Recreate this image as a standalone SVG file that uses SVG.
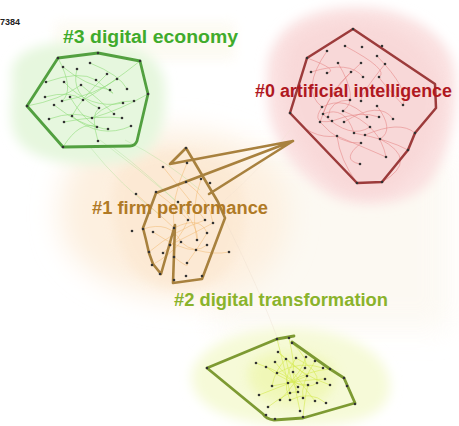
<svg xmlns="http://www.w3.org/2000/svg" width="459" height="426" viewBox="0 0 459 426">
  <defs>
    <filter id="haze" x="-30%" y="-30%" width="160%" height="160%">
      <feGaussianBlur stdDeviation="6"/>
    </filter>
    <filter id="hazeSoft" x="-30%" y="-30%" width="160%" height="160%">
      <feGaussianBlur stdDeviation="14"/>
    </filter>
    <style>
      .label { font-family: "Liberation Sans", Arial, sans-serif; font-weight: bold; font-size: 18px; }
      .dot { fill: #333; }
      .hull { fill: none; stroke-linejoin: round; stroke-linecap: round; }
      .e3 { fill: none; stroke: #8fdc78; stroke-width: 0.8; opacity: 0.75; }
      .e0 { fill: none; stroke: #e68a8a; stroke-width: 0.8; opacity: 0.75; }
      .e1 { fill: none; stroke: #f0b66a; stroke-width: 0.8; opacity: 0.6; }
      .e2 { fill: none; stroke: #d6ea55; stroke-width: 0.8; opacity: 0.8; }
      .link { fill: none; stroke-width: 0.7; opacity: 0.45; }
    </style>
  </defs>

  <rect width="459" height="426" fill="#ffffff"/>

  <!-- background washes -->
  <g id="wash">
    <rect x="210" y="150" width="240" height="180" fill="#fcf8f0" filter="url(#hazeSoft)" opacity="0.8"/>
    <rect x="55" y="22" width="180" height="38" fill="#fcf9ef" filter="url(#haze)" opacity="0.8"/>
    <path d="M70,170 C80,135 140,125 200,132 C255,140 290,170 288,220 C285,265 250,300 190,300 C125,300 65,268 60,225 C58,200 62,185 70,170Z" fill="#fdf0e0" filter="url(#hazeSoft)"/>
    <path d="M120,168 C140,145 200,145 228,165 C255,188 250,248 222,276 C195,296 152,292 132,268 C112,240 105,195 120,168Z" fill="#fce8d2" filter="url(#haze)" opacity="0.8"/>
    <path d="M12,78 C8,50 45,40 85,43 C125,42 162,50 165,85 C168,125 158,160 118,163 C78,167 22,163 13,130 C8,110 14,95 12,78Z" fill="#e6f7de" filter="url(#haze)"/>
    <path d="M276,42 C292,12 340,3 380,9 C420,16 455,42 455,78 C457,115 450,152 430,182 C410,206 360,210 332,196 C298,177 270,142 268,102 C266,72 266,56 276,42Z" fill="#fae0e0" filter="url(#haze)"/>
    <path d="M295,40 C315,22 350,18 380,25 C415,35 440,60 440,95 C440,130 425,165 395,188 C370,200 345,195 325,175 C300,150 285,120 285,90 C285,70 285,52 295,40Z" fill="#f8d6d6" filter="url(#haze)" opacity="0.7"/>
    <path d="M192,372 C202,342 250,326 295,328 C345,330 390,352 390,386 C390,415 358,426 300,426 C240,426 187,410 192,372Z" fill="#f6fad8" filter="url(#haze)"/>
    <path d="M250,365 C265,347 310,347 330,363 C343,378 333,403 300,406 C268,408 240,390 250,365Z" fill="#eff7b0" filter="url(#haze)" opacity="0.8"/>
  </g>

  <!-- links between clusters -->
  <g id="connectors">
    <path class="link" stroke="#9fdc88" d="M100,140 Q140,170 175,200"/>
    <path class="link" stroke="#9fdc88" d="M110,145 Q150,175 190,215"/>
    <path class="link" stroke="#9fdc88" d="M90,147 Q120,185 160,215"/>
    <path class="link" stroke="#9fdc88" d="M125,140 Q165,160 200,190"/>
    <path class="link" stroke="#e8d8c8" d="M225,220 Q260,290 280,345"/>
    <path class="link" stroke="#eee0d0" d="M290,130 Q260,170 225,200"/>
  </g>

  <!-- #3 digital economy -->
  <g id="cluster3">
    <path class="e3" d="M63,67 Q85,85 110,90"/>
    <path class="e3" d="M77,69 Q70,95 99,108"/>
    <path class="e3" d="M90,63 Q120,75 127,89"/>
    <path class="e3" d="M46,82 Q80,70 96,80"/>
    <path class="e3" d="M64,82 Q90,110 123,103"/>
    <path class="e3" d="M81,85 Q100,100 114,114"/>
    <path class="e3" d="M45,97 Q70,90 83,100"/>
    <path class="e3" d="M54,105 Q80,125 97,127"/>
    <path class="e3" d="M62,101 Q95,95 117,79"/>
    <path class="e3" d="M70,97 Q90,130 108,129"/>
    <path class="e3" d="M49,119 Q75,110 92,118"/>
    <path class="e3" d="M64,122 Q100,115 122,118"/>
    <path class="e3" d="M72,116 Q100,140 131,126"/>
    <path class="e3" d="M92,118 Q110,100 134,101"/>
    <path class="e3" d="M98,141 Q90,115 99,108"/>
    <path class="e3" d="M107,74 Q80,100 72,116"/>
    <path class="e3" d="M96,80 Q120,100 110,90"/>
    <path class="e3" d="M58,58 Q75,90 62,101"/>
    <path class="e3" d="M140,61 Q110,85 83,100"/>
    <path class="e3" d="M27,106 Q60,100 81,85"/>
    <path class="e3" d="M63,147 Q80,120 97,127"/>
    <path class="e3" d="M148,94 Q120,110 92,118"/>
    <path class="hull" stroke="#52a040" stroke-width="2.8" d="M58,58 L98,53 L140,61 L148,94 L137,141 Q135,146 130,146 L63,147 L27,106 Z"/>
    <g class="dots">
      <circle class="dot" cx="58" cy="58" r="1.3"/><circle class="dot" cx="98" cy="53" r="1.3"/><circle class="dot" cx="140" cy="61" r="1.3"/>
      <circle class="dot" cx="148" cy="94" r="1.3"/><circle class="dot" cx="63" cy="147" r="1.3"/><circle class="dot" cx="27" cy="106" r="1.3"/>
      <circle class="dot" cx="63" cy="67" r="1.3"/><circle class="dot" cx="77" cy="69" r="1.3"/><circle class="dot" cx="90" cy="63" r="1.3"/>
      <circle class="dot" cx="107" cy="74" r="1.3"/><circle class="dot" cx="117" cy="79" r="1.3"/><circle class="dot" cx="46" cy="82" r="1.3"/>
      <circle class="dot" cx="64" cy="82" r="1.3"/><circle class="dot" cx="81" cy="85" r="1.3"/><circle class="dot" cx="96" cy="80" r="1.3"/>
      <circle class="dot" cx="110" cy="90" r="1.3"/><circle class="dot" cx="127" cy="89" r="1.3"/><circle class="dot" cx="45" cy="97" r="1.3"/>
      <circle class="dot" cx="54" cy="105" r="1.3"/><circle class="dot" cx="62" cy="101" r="1.3"/><circle class="dot" cx="70" cy="97" r="1.3"/>
      <circle class="dot" cx="83" cy="100" r="1.3"/><circle class="dot" cx="99" cy="108" r="1.3"/><circle class="dot" cx="123" cy="103" r="1.3"/>
      <circle class="dot" cx="134" cy="101" r="1.3"/><circle class="dot" cx="49" cy="119" r="1.3"/><circle class="dot" cx="64" cy="122" r="1.3"/>
      <circle class="dot" cx="72" cy="116" r="1.3"/><circle class="dot" cx="92" cy="118" r="1.3"/><circle class="dot" cx="114" cy="114" r="1.3"/>
      <circle class="dot" cx="122" cy="118" r="1.3"/><circle class="dot" cx="97" cy="127" r="1.3"/><circle class="dot" cx="108" cy="129" r="1.3"/>
      <circle class="dot" cx="131" cy="126" r="1.3"/><circle class="dot" cx="98" cy="141" r="1.3"/>
    </g>
    <text class="label" x="63" y="43" fill="#3fab2b" textLength="175" lengthAdjust="spacingAndGlyphs">#3 digital economy</text>
  </g>

  <!-- #0 artificial intelligence -->
  <g id="cluster0">
    <path class="e0" d="M327,51 Q300,90 322,107"/>
    <path class="e0" d="M345,46 Q390,70 379,77"/>
    <path class="e0" d="M311,72 Q350,60 363,77"/>
    <path class="e0" d="M338,63 Q360,100 343,111"/>
    <path class="e0" d="M361,63 Q330,90 323,114"/>
    <path class="e0" d="M377,56 Q410,90 403,105"/>
    <path class="e0" d="M322,107 Q345,95 367,117"/>
    <path class="e0" d="M323,114 Q350,140 370,127"/>
    <path class="e0" d="M328,117 Q330,100 350,100"/>
    <path class="e0" d="M320,122 Q340,145 361,143"/>
    <path class="e0" d="M332,121 Q360,110 379,117"/>
    <path class="e0" d="M344,122 Q380,100 393,119"/>
    <path class="e0" d="M337,136 Q370,150 386,157"/>
    <path class="e0" d="M354,133 Q390,140 408,150"/>
    <path class="e0" d="M365,135 Q400,120 415,133"/>
    <path class="e0" d="M361,143 Q340,160 360,164"/>
    <path class="e0" d="M380,139 Q420,160 382,182"/>
    <path class="e0" d="M290,113 Q310,140 337,136"/>
    <path class="e0" d="M351,72 Q330,90 320,122"/>
    <path class="e0" d="M307,58 Q340,70 327,73"/>
    <path class="e0" d="M385,64 Q360,95 361,101"/>
    <path class="e0" d="M377,106 Q395,130 380,139"/>
    <path class="e0" d="M343,111 Q380,125 386,157"/>
    <path class="e0" d="M322,107 Q310,125 332,121"/>
    <path class="e0" d="M323,114 Q345,105 354,133"/>
    <path class="e0" d="M357,183 Q340,160 337,136"/>
    <path class="e0" d="M403,105 Q380,80 379,77"/>
    <path class="hull" stroke="#9c3b3b" stroke-width="2.5" d="M353,29 L435,84 L436,108 L415,133 L408,150 L382,182 L357,183 L290,113 L307,58 Z"/>
    <g class="dots">
      <circle class="dot" cx="353" cy="29" r="1.3"/><circle class="dot" cx="382" cy="46" r="1.3"/><circle class="dot" cx="307" cy="58" r="1.3"/>
      <circle class="dot" cx="327" cy="51" r="1.3"/><circle class="dot" cx="345" cy="46" r="1.3"/><circle class="dot" cx="362" cy="47" r="1.3"/>
      <circle class="dot" cx="377" cy="56" r="1.3"/><circle class="dot" cx="385" cy="64" r="1.3"/><circle class="dot" cx="338" cy="63" r="1.3"/>
      <circle class="dot" cx="361" cy="63" r="1.3"/><circle class="dot" cx="311" cy="72" r="1.3"/><circle class="dot" cx="327" cy="73" r="1.3"/>
      <circle class="dot" cx="351" cy="72" r="1.3"/><circle class="dot" cx="363" cy="77" r="1.3"/><circle class="dot" cx="379" cy="77" r="1.3"/>
      <circle class="dot" cx="350" cy="100" r="1.3"/><circle class="dot" cx="361" cy="101" r="1.3"/><circle class="dot" cx="377" cy="106" r="1.3"/>
      <circle class="dot" cx="403" cy="105" r="1.3"/><circle class="dot" cx="322" cy="107" r="1.3"/><circle class="dot" cx="343" cy="111" r="1.3"/>
      <circle class="dot" cx="323" cy="114" r="1.3"/><circle class="dot" cx="328" cy="117" r="1.3"/><circle class="dot" cx="367" cy="117" r="1.3"/>
      <circle class="dot" cx="379" cy="117" r="1.3"/><circle class="dot" cx="393" cy="119" r="1.3"/><circle class="dot" cx="320" cy="122" r="1.3"/>
      <circle class="dot" cx="332" cy="121" r="1.3"/><circle class="dot" cx="344" cy="122" r="1.3"/><circle class="dot" cx="370" cy="127" r="1.3"/>
      <circle class="dot" cx="337" cy="136" r="1.3"/><circle class="dot" cx="354" cy="133" r="1.3"/><circle class="dot" cx="365" cy="135" r="1.3"/>
      <circle class="dot" cx="380" cy="139" r="1.3"/><circle class="dot" cx="361" cy="143" r="1.3"/><circle class="dot" cx="415" cy="133" r="1.3"/>
      <circle class="dot" cx="408" cy="150" r="1.3"/><circle class="dot" cx="386" cy="157" r="1.3"/><circle class="dot" cx="360" cy="164" r="1.3"/>
      <circle class="dot" cx="357" cy="183" r="1.3"/><circle class="dot" cx="382" cy="182" r="1.3"/><circle class="dot" cx="290" cy="113" r="1.3"/>
    </g>
    <text class="label" x="255" y="97" fill="#b0181f" textLength="197" lengthAdjust="spacingAndGlyphs">#0 artificial intelligence</text>
  </g>

  <!-- #1 firm performance -->
  <g id="cluster1">
    <path class="e1" d="M163,167 Q190,200 205,220"/>
    <path class="e1" d="M187,163 Q170,200 174,228"/>
    <path class="e1" d="M186,182 Q210,200 213,223"/>
    <path class="e1" d="M156,192 Q180,210 188,220"/>
    <path class="e1" d="M178,202 Q200,230 197,240"/>
    <path class="e1" d="M143,229 Q170,220 181,242"/>
    <path class="e1" d="M153,232 Q180,250 196,250"/>
    <path class="e1" d="M174,228 Q200,215 207,233"/>
    <path class="e1" d="M181,242 Q195,255 207,245"/>
    <path class="e1" d="M163,253 Q180,240 188,220"/>
    <path class="e1" d="M174,257 Q190,270 187,263"/>
    <path class="e1" d="M170,245 Q200,230 213,223"/>
    <path class="e1" d="M149,252 Q175,230 205,220"/>
    <path class="e1" d="M201,179 Q190,210 197,240"/>
    <path class="e1" d="M136,194 Q160,215 174,228"/>
    <path class="e1" d="M196,250 Q215,255 229,252"/>
    <path class="e1" d="M187,263 Q200,245 207,233"/>
    <path class="e1" d="M152,265 Q170,255 181,242"/>
    <path class="hull" stroke="#a8813e" stroke-width="2.6" d="M186,148 L170,164 L293,141 L156,193 L143,228 L146,240 L149,253 L153,264 L161,274 L175,225 L173,283 L202,279 L225,218 L218,202 L186,148 Z M293,141 L209,194"/>
    <g class="dots">
      <circle class="dot" cx="186" cy="148" r="1.3"/><circle class="dot" cx="163" cy="167" r="1.3"/><circle class="dot" cx="187" cy="163" r="1.3"/>
      <circle class="dot" cx="186" cy="182" r="1.3"/><circle class="dot" cx="201" cy="179" r="1.3"/><circle class="dot" cx="210" cy="183" r="1.3"/>
      <circle class="dot" cx="156" cy="192" r="1.3"/><circle class="dot" cx="136" cy="194" r="1.3"/><circle class="dot" cx="178" cy="202" r="1.3"/>
      <circle class="dot" cx="188" cy="220" r="1.3"/><circle class="dot" cx="205" cy="220" r="1.3"/><circle class="dot" cx="213" cy="223" r="1.3"/>
      <circle class="dot" cx="132" cy="231" r="1.3"/><circle class="dot" cx="143" cy="229" r="1.3"/><circle class="dot" cx="153" cy="232" r="1.3"/>
      <circle class="dot" cx="174" cy="228" r="1.3"/><circle class="dot" cx="181" cy="242" r="1.3"/><circle class="dot" cx="197" cy="240" r="1.3"/>
      <circle class="dot" cx="207" cy="233" r="1.3"/><circle class="dot" cx="207" cy="245" r="1.3"/><circle class="dot" cx="149" cy="252" r="1.3"/>
      <circle class="dot" cx="163" cy="253" r="1.3"/><circle class="dot" cx="174" cy="257" r="1.3"/><circle class="dot" cx="196" cy="250" r="1.3"/>
      <circle class="dot" cx="229" cy="252" r="1.3"/><circle class="dot" cx="187" cy="263" r="1.3"/><circle class="dot" cx="160" cy="274" r="1.3"/>
      <circle class="dot" cx="174" cy="280" r="1.3"/><circle class="dot" cx="186" cy="276" r="1.3"/><circle class="dot" cx="202" cy="276" r="1.3"/>
      <circle class="dot" cx="152" cy="265" r="1.3"/><circle class="dot" cx="170" cy="245" r="1.3"/>
    </g>
    <text class="label" x="92" y="214" fill="#b07a26" textLength="176" lengthAdjust="spacingAndGlyphs">#1 firm performance</text>
  </g>

  <!-- #2 digital transformation -->
  <g id="cluster2">
    <path class="e2" d="M278,352 Q300,370 307,376"/>
    <path class="e2" d="M286,359 Q290,380 298,392"/>
    <path class="e2" d="M296,358 Q280,380 290,400"/>
    <path class="e2" d="M306,357 Q300,375 288,383"/>
    <path class="e2" d="M315,361 Q300,385 303,398"/>
    <path class="e2" d="M277,373 Q300,360 323,368"/>
    <path class="e2" d="M293,372 Q310,395 315,401"/>
    <path class="e2" d="M305,368 Q290,390 280,400"/>
    <path class="e2" d="M266,367 Q290,385 308,385"/>
    <path class="e2" d="M275,362 Q300,395 317,383"/>
    <path class="e2" d="M289,338 Q295,365 293,372"/>
    <path class="e2" d="M292,343 Q310,360 305,368"/>
    <path class="e2" d="M256,363 Q290,375 298,387"/>
    <path class="e2" d="M272,386 Q300,380 325,379"/>
    <path class="e2" d="M288,383 Q310,370 330,369"/>
    <path class="e2" d="M259,395 Q285,385 307,376"/>
    <path class="e2" d="M268,407 Q290,390 298,392"/>
    <path class="e2" d="M300,411 Q295,390 293,372"/>
    <path class="e2" d="M277,339 Q285,370 290,393"/>
    <path class="e2" d="M303,417 Q305,395 308,385"/>
    <path class="e2" d="M326,403 Q310,390 290,400"/>
    <path class="e2" d="M330,385 Q300,375 278,352"/>
    <path class="e2" d="M296,358 Q320,370 317,383"/>
    <path class="e2" d="M286,359 Q275,370 272,386"/>
    <path class="hull" stroke="#7d9a32" stroke-width="2.8" d="M294,336 L277,339 L207,368 L263,414 Q266,419 274,420 L303,418 L355,403 L344,378 L330,369 L292,342"/>
    <g class="dots">
      <circle class="dot" cx="207" cy="368" r="1.3"/><circle class="dot" cx="277" cy="339" r="1.3"/><circle class="dot" cx="289" cy="338" r="1.3"/>
      <circle class="dot" cx="292" cy="343" r="1.3"/><circle class="dot" cx="278" cy="352" r="1.3"/><circle class="dot" cx="256" cy="363" r="1.3"/>
      <circle class="dot" cx="266" cy="367" r="1.3"/><circle class="dot" cx="275" cy="362" r="1.3"/><circle class="dot" cx="286" cy="359" r="1.3"/>
      <circle class="dot" cx="296" cy="358" r="1.3"/><circle class="dot" cx="306" cy="357" r="1.3"/><circle class="dot" cx="315" cy="361" r="1.3"/>
      <circle class="dot" cx="277" cy="373" r="1.3"/><circle class="dot" cx="293" cy="372" r="1.3"/><circle class="dot" cx="305" cy="368" r="1.3"/>
      <circle class="dot" cx="323" cy="368" r="1.3"/><circle class="dot" cx="330" cy="369" r="1.3"/><circle class="dot" cx="307" cy="376" r="1.3"/>
      <circle class="dot" cx="325" cy="379" r="1.3"/><circle class="dot" cx="344" cy="378" r="1.3"/><circle class="dot" cx="288" cy="383" r="1.3"/>
      <circle class="dot" cx="272" cy="386" r="1.3"/><circle class="dot" cx="298" cy="387" r="1.3"/><circle class="dot" cx="308" cy="385" r="1.3"/>
      <circle class="dot" cx="317" cy="383" r="1.3"/><circle class="dot" cx="330" cy="385" r="1.3"/><circle class="dot" cx="347" cy="386" r="1.3"/>
      <circle class="dot" cx="290" cy="393" r="1.3"/><circle class="dot" cx="298" cy="392" r="1.3"/><circle class="dot" cx="259" cy="395" r="1.3"/>
      <circle class="dot" cx="280" cy="400" r="1.3"/><circle class="dot" cx="290" cy="400" r="1.3"/><circle class="dot" cx="303" cy="398" r="1.3"/>
      <circle class="dot" cx="315" cy="401" r="1.3"/><circle class="dot" cx="326" cy="403" r="1.3"/><circle class="dot" cx="355" cy="404" r="1.3"/>
      <circle class="dot" cx="268" cy="407" r="1.3"/><circle class="dot" cx="300" cy="411" r="1.3"/><circle class="dot" cx="266" cy="415" r="1.3"/>
      <circle class="dot" cx="275" cy="419" r="1.3"/><circle class="dot" cx="303" cy="417" r="1.3"/>
    </g>
    <text class="label" x="174" y="306" fill="#8ab32b" textLength="214" lengthAdjust="spacingAndGlyphs">#2 digital transformation</text>
  </g>

  <text x="0" y="25" font-family="Liberation Sans, Arial, sans-serif" font-weight="bold" font-size="9" fill="#222">7384</text>
</svg>
